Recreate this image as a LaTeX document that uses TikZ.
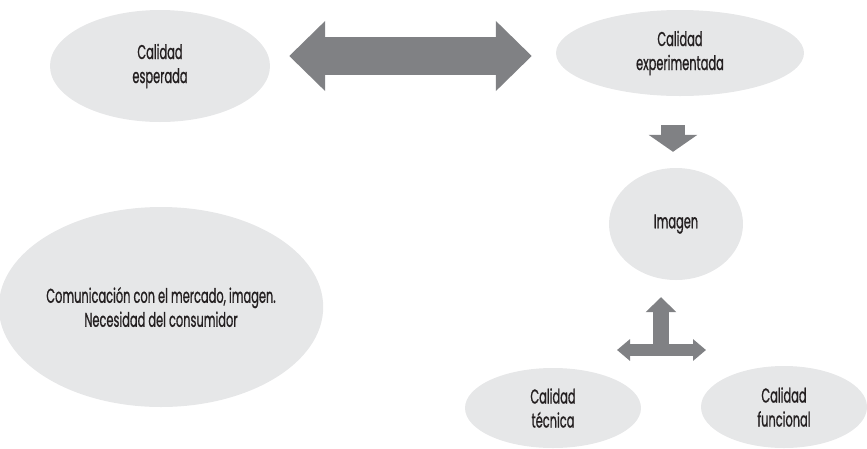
\documentclass[tikz,border=0pt]{standalone}
\usepackage{fontspec}
\setmainfont{Poppins}[FakeStretch=0.57, FakeBold=0.8]
\usepackage{tikz}
\usetikzlibrary{arrows.meta}
\usetikzlibrary{positioning,calc}
\usetikzlibrary{shapes.geometric}
\usepackage{xcolor}
\definecolor{bubblegray}{HTML}{E6E7E8}
\definecolor{arrowgray}{HTML}{808184}
\definecolor{textgray}{HTML}{231F20}
\tikzset{
    bubble/.style={
        ellipse,
        fill=bubblegray,
        inner sep=0pt,
        align=center,
        text=textgray,
        font=\fontsize{20}{24}\selectfont
    },
    fatarrow/.style={
        draw=arrowgray,
        line cap=butt,
        -{Triangle[length=36pt, width=68pt]}
    }
}

\begin{document}
\begin{tikzpicture}[x=1pt, y=-1pt]
  \useasboundingbox (0,0) rectangle (867,448);

  % Bubbles
  \node[bubble, minimum width=220pt, minimum height=112pt] (esp) at (160,66) {Calidad\\esperada};
  \node[bubble, minimum width=248pt, minimum height=86pt] (exp) at (680,53) {Calidad\\experimentada};
  \node[bubble, minimum width=134pt, minimum height=112pt] (img) at (676,224) {Imagen};
  \node[bubble, minimum width=308pt, minimum height=200pt] (com) at (161,307) {Comunicación con el mercado, imagen.\\Necesidad del consumidor};
  \node[bubble, minimum width=176pt, minimum height=80pt] (tec) at (553,408) {Calidad\\técnica};
  \node[bubble, minimum width=166pt, minimum height=82pt] (fun) at (784,407) {Calidad\\funcional};

  % Arrows
  \draw[fatarrow, line width=38pt, {Triangle[length=36pt, width=68pt]}-{Triangle[length=36pt, width=68pt]}]
    ([xshift=19pt, yshift=10pt]esp.east) -- ([xshift=-24pt, yshift=-3pt]exp.west);
  \draw[fatarrow, line width=24pt, -{Triangle[length=17pt, width=48pt]}]
    ([xshift=-7pt, yshift=-29pt]exp.south) -- ([xshift=-3pt, yshift=16pt]img.north);

  % Junction below the image
  \coordinate (tee) at (661,350);
  \draw[fatarrow, line width=16pt, -{Triangle[length=15pt, width=30pt]}]
    (tee) -- ([xshift=-15pt, yshift=-17pt]img.south);
  \draw[fatarrow, line width=12pt, {Triangle[length=13pt, width=21pt]}-{Triangle[length=13pt, width=21pt]}]
    ([xshift=-44pt]tee) -- ([xshift=45pt]tee);
\end{tikzpicture}
\end{document}
